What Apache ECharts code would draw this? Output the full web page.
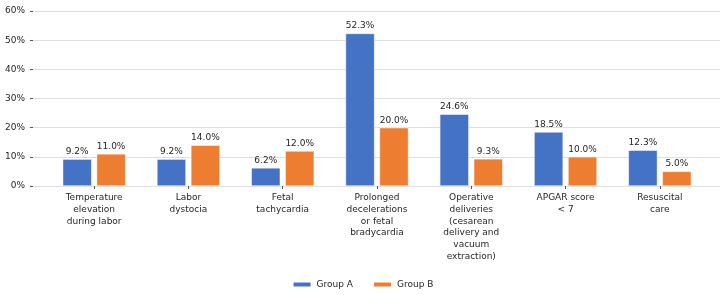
<!DOCTYPE html>
<html>
<head>
<meta charset="utf-8">
<script src="https://cdn.jsdelivr.net/npm/echarts@6/dist/echarts.min.js"></script>
<style>
  html, body { margin: 0; padding: 0; background: #fff; }
  #chart { width: 725px; height: 295px; }
</style>
</head>
<body>
<div id="chart"></div>
<script>
// Datos del gráfico
const categories = [
    'Temperature\nelevation\nduring labor',
    'Labor\ndystocia',
    'Fetal\ntachycardia',
    'Prolonged\ndecelerations\nor fetal\nbradycardia',
    'Operative\ndeliveries\n(cesarean\ndelivery and\nvacuum\nextraction)',
    'APGAR score\n< 7',
    'Resuscital\ncare'
];
const groupA = [9.2, 9.2, 6.2, 52.3, 24.6, 18.5, 12.3];
const groupB = [11.0, 14.0, 12.0, 20.0, 9.3, 10.0, 5.0];
const seriesNames = ['Group A', 'Group B'];

const font = 'DejaVu Sans';
const textColor = '#262626';

const chart = echarts.init(document.getElementById('chart'));

const labelStyle = {
    show: true,
    position: 'top',
    distance: 3,
    fontFamily: font,
    fontSize: 9,
    color: textColor,
    formatter: p => p.value.toFixed(1) + '%'
};

const option = {
    animation: false,
    textStyle: { fontFamily: font },
    legend: {
        top: 275,
        left: 'center',
        itemWidth: 19,
        itemHeight: 6,
        itemGap: 19,
        icon: 'rect',
        textStyle: { fontFamily: font, fontSize: 9, color: textColor },
        data: seriesNames
    },
    grid: [
        // rejilla para las líneas horizontales y el eje Y
        { left: 33, right: 5, top: 11, bottom: 109 },
        // rejilla para las barras
        { left: 47, right: 18, top: 11, bottom: 109 }
    ],
    xAxis: [
        { type: 'category', gridIndex: 0, data: categories, show: false },
        {
            type: 'category',
            gridIndex: 1,
            data: categories,
            axisLine: { show: false },
            axisTick: { show: true, alignWithLabel: true, length: 3, lineStyle: { color: '#555' } },
            axisLabel: {
                fontFamily: font,
                fontSize: 9,
                lineHeight: 11.7,
                color: textColor,
                margin: 6,
                interval: 0
            }
        }
    ],
    yAxis: [
        {
            type: 'value',
            gridIndex: 0,
            min: 0,
            max: 60,
            interval: 10,
            axisLine: { show: false },
            axisTick: { show: true, length: 3, lineStyle: { color: '#555' } },
            axisLabel: {
                fontFamily: font,
                fontSize: 9,
                color: textColor,
                margin: 8,
                formatter: '{value}%'
            },
            splitLine: { lineStyle: { color: '#dedede', width: 1 } }
        },
        { type: 'value', gridIndex: 1, min: 0, max: 60, interval: 10, show: false }
    ],
    series: [
        {
            name: seriesNames[0],
            type: 'bar',
            xAxisIndex: 1,
            yAxisIndex: 1,
            data: groupA,
            barWidth: 29,
            barGap: '17%',
            itemStyle: { color: '#4472C4', borderColor: '#fff', borderWidth: 0.5 },
            label: labelStyle
        },
        {
            name: seriesNames[1],
            type: 'bar',
            xAxisIndex: 1,
            yAxisIndex: 1,
            data: groupB,
            barWidth: 29,
            itemStyle: { color: '#ED7D31', borderColor: '#fff', borderWidth: 0.5 },
            label: labelStyle
        }
    ]
};

chart.setOption(option);
</script>
</body>
</html>
